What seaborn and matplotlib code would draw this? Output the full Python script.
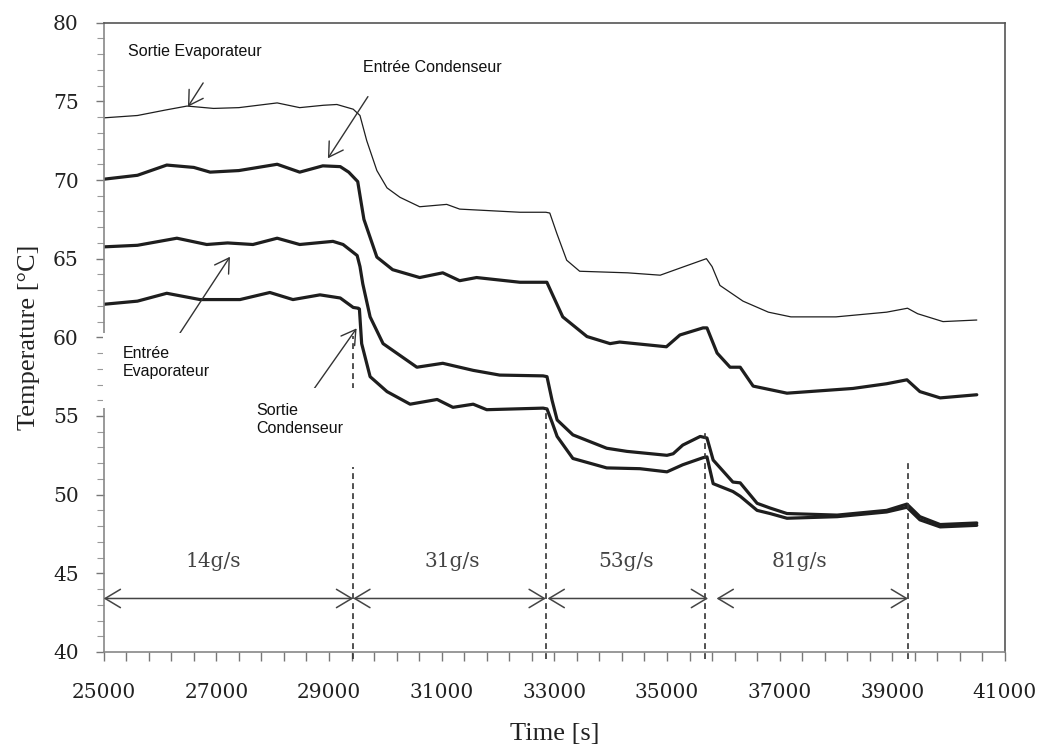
import numpy as np
import pandas as pd
import matplotlib
matplotlib.use('Agg')
import matplotlib.pyplot as plt
import seaborn as sns
from matplotlib.patches import Rectangle
from matplotlib.ticker import MultipleLocator

# valeurs (temps en s, température en °C)
t_sortie_evap = [25000, 25600, 26100, 26480, 26950, 27400, 28080, 28480, 28900, 29140, 29430, 29550,
                 29670, 29850, 30030, 30260, 30610, 31090, 31320, 32390, 32850, 32920, 33045, 33220,
                 33450, 34300, 34880, 35230, 35700, 35800, 35940, 36350, 36800, 37200, 38000, 38900,
                 39270, 39450, 39900, 40500]
T_sortie_evap = [73.95, 74.1, 74.45, 74.7, 74.55, 74.6, 74.9, 74.6, 74.75, 74.8, 74.5, 74.1,
                 72.5, 70.6, 69.5, 68.9, 68.3, 68.45, 68.15, 67.95, 67.95, 67.9, 66.6, 64.9,
                 64.2, 64.1, 63.95, 64.4, 65.0, 64.5, 63.3, 62.3, 61.6, 61.3, 61.3, 61.6,
                 61.85, 61.5, 61.0, 61.1]

t_entree_cond = [25000, 25600, 26120, 26600, 26890, 27400, 28080, 28480, 28890, 29200, 29350, 29510,
                 29560, 29620, 29850, 30130, 30610, 31020, 31320, 31620, 32390, 32868, 32957, 33150,
                 33580, 33990, 34160, 34990, 35230, 35640, 35710, 35890, 36120, 36300, 36530, 37130,
                 38300, 38900, 39260, 39490, 39850, 40500]
T_entree_cond = [70.05, 70.3, 70.95, 70.8, 70.5, 70.6, 71.0, 70.5, 70.9, 70.85, 70.5, 69.9,
                 68.8, 67.5, 65.1, 64.3, 63.8, 64.1, 63.6, 63.8, 63.5, 63.5, 62.8, 61.3,
                 60.05, 59.6, 59.7, 59.4, 60.15, 60.6, 60.6, 59.0, 58.1, 58.1, 56.9, 56.45,
                 56.75, 57.05, 57.3, 56.55, 56.15, 56.35]

t_entree_evap = [25000, 25600, 26300, 26830, 27200, 27650, 28080, 28480, 29070, 29250, 29500, 29550,
                 29600, 29730, 29960, 30560, 31020, 31560, 32030, 32800, 32870, 32960, 33050, 33330,
                 33930, 34290, 35000, 35110, 35280, 35590, 35710, 35820, 36170, 36300, 36600, 36830,
                 37130, 38020, 38900, 39260, 39490, 39850, 40500]
T_entree_evap = [65.75, 65.85, 66.3, 65.9, 66.0, 65.9, 66.3, 65.9, 66.1, 65.9, 65.2, 64.5,
                 63.4, 61.3, 59.6, 58.1, 58.35, 57.9, 57.6, 57.55, 57.5, 56.0, 54.75, 53.8,
                 52.95, 52.75, 52.5, 52.6, 53.15, 53.7, 53.6, 52.2, 50.8, 50.75, 49.45, 49.15,
                 48.8, 48.7, 49.0, 49.4, 48.6, 48.1, 48.2]

t_sortie_cond = [25000, 25600, 26120, 26710, 27420, 27950, 28360, 28840, 29200, 29430, 29520, 29540,
                 29580, 29730, 30030, 30440, 30920, 31200, 31560, 31800, 32800, 32870, 32960, 33050,
                 33330, 33930, 34520, 35000, 35280, 35640, 35710, 35820, 36170, 36300, 36600, 36830,
                 37130, 38020, 38900, 39260, 39490, 39850, 40500]
T_sortie_cond = [62.1, 62.3, 62.8, 62.4, 62.4, 62.85, 62.4, 62.7, 62.5, 61.9, 61.85, 61.8,
                 59.6, 57.5, 56.55, 55.75, 56.05, 55.55, 55.75, 55.4, 55.5, 55.45, 54.6, 53.7,
                 52.3, 51.7, 51.65, 51.45, 51.9, 52.35, 52.4, 50.7, 50.2, 49.9, 49.0, 48.8,
                 48.5, 48.6, 48.9, 49.2, 48.4, 47.95, 48.05]

# changements de débit
t_changes = [29430, 32850, 35680, 39270]
T_dash_top = [60.1, 55.5, 54.0, 52.2]
debits = ['14g/s', '31g/s', '53g/s', '81g/s']
debit_x = [26950, 31180, 34280, 37360]
fleches = [(25000, 29430), (29430, 32850), (32880, 35730), (35880, 39280)]
xticks = [25000, 27000, 29000, 31000, 33000, 35000, 37000, 39000, 41000]

sns.set_style('ticks')
plt.rcParams['font.family'] = ['DejaVu Serif']

fig, ax = plt.subplots(figsize=(10.44, 7.56), dpi=100)
fig.subplots_adjust(left=0.0993, right=0.9626, bottom=0.1376, top=0.97)

series = [(t_sortie_evap, T_sortie_evap, 0.9),
          (t_entree_cond, T_entree_cond, 2.3),
          (t_entree_evap, T_entree_evap, 2.3),
          (t_sortie_cond, T_sortie_cond, 2.3)]
for tt, TT, lw in series:
    df = pd.DataFrame({'time': tt, 'temp': TT})
    sns.lineplot(data=df, x='time', y='temp', color='#1e1e1e', linewidth=lw,
                 estimator=None, sort=False, ax=ax, zorder=2)

# lignes pointillées verticales
for xc, ytop in zip(t_changes, T_dash_top):
    ax.plot([xc, xc], [39.55, ytop], color='#333333', lw=1.2, ls=(0, (3.5, 2.5)),
            clip_on=False, zorder=2)

# flèches de débit
for x0, x1 in fleches:
    ax.annotate('', xy=(x1, 43.4), xytext=(x0, 43.4),
                arrowprops=dict(arrowstyle='<->,head_length=0.55,head_width=0.33',
                                mutation_scale=20, color='#444444', lw=1.1,
                                shrinkA=0, shrinkB=0), zorder=4)
for lab, xc in zip(debits, debit_x):
    ax.text(xc, 45.75, lab, ha='center', va='center', fontsize=14.5,
            color='#444444', family='DejaVu Serif', zorder=4)

# masques blancs derrière les étiquettes
ax.add_patch(Rectangle((24985, 55.5), 28484 - 24985, 60.27 - 55.5, facecolor='white',
                       edgecolor='none', zorder=3, clip_on=False))
ax.add_patch(Rectangle((27597, 51.75), 29514 - 27597, 56.77 - 51.75, facecolor='white',
                       edgecolor='none', zorder=3))

arrow_kw = dict(arrowstyle='->,head_length=0.5,head_width=0.3', mutation_scale=20,
                color='#333333', lw=1.0, shrinkA=0, shrinkB=0)
ax.annotate('', xy=(26496, 74.66), xytext=(26766, 76.17), arrowprops=arrow_kw, zorder=2.6)
ax.annotate('', xy=(28981, 71.38), xytext=(29691, 75.3), arrowprops=arrow_kw, zorder=2.6)
ax.annotate('', xy=(27242, 65.12), xytext=(26354, 60.27), arrowprops=arrow_kw, zorder=2.6)
ax.annotate('', xy=(29490, 60.57), xytext=(28484, 55.45), arrowprops=arrow_kw, zorder=2.6)

txt_kw = dict(fontsize=11.5, family='Liberation Sans', color='#111111', ha='left',
              va='center', zorder=5, linespacing=1.25)
ax.text(25431, 78.14, 'Sortie Evaporateur', **txt_kw)
ax.text(29603, 77.14, 'Entrée Condenseur', **txt_kw)
ax.text(25343, 58.37, 'Entrée\nEvaporateur', **txt_kw)
ax.text(27703, 54.8, 'Sortie\nCondenseur', **txt_kw)

ax.set_xlim(25000, 41000)
ax.set_ylim(40, 80)
ax.set_xticks(xticks)
ax.set_xticks(np.arange(25000, 41001, 400), minor=True)
ax.yaxis.set_major_locator(MultipleLocator(5))
ax.yaxis.set_minor_locator(MultipleLocator(1))
ax.tick_params(axis='x', which='both', direction='out', length=6.5, width=1,
               color='#777777', pad=16, labelsize=14.5, labelcolor='#222222')
ax.tick_params(axis='y', which='major', direction='out', length=6, width=1,
               color='#777777', pad=12, labelsize=14.5, labelcolor='#222222')
ax.tick_params(axis='y', which='minor', direction='out', length=5, width=0.8,
               color='#999999')

for side in ['left', 'bottom']:
    ax.spines[side].set_color('#888888')
    ax.spines[side].set_linewidth(1.2)
for side in ['top', 'right']:
    ax.spines[side].set_color('#555555')
    ax.spines[side].set_linewidth(1.2)

ax.set_xlabel('Time [s]', fontsize=19, family='Liberation Serif', color='#222222')
ax.set_ylabel('Temperature [°C]', fontsize=19, family='Liberation Serif', color='#222222')
ax.xaxis.set_label_coords(0.5, -0.113)
ax.yaxis.set_label_coords(-0.071, 0.5)

fig.savefig('out.png', dpi=100)
